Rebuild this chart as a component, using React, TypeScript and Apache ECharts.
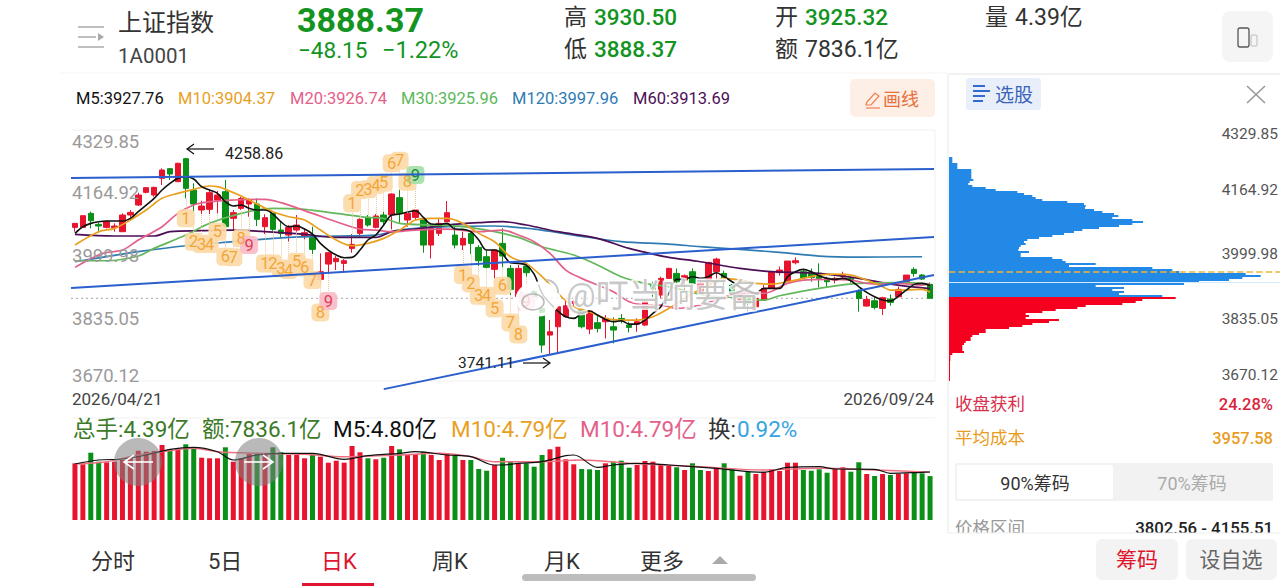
import { useEffect, useRef } from 'react'
import * as echarts from 'echarts'

// [open, close, low, high]
const kline: number[][] = [
  [4075.5, 4086.1, 4064.1, 4086.1], [4075.5, 4106.3, 4075.5, 4106.3], [4112.5, 4093.1, 4072.9, 4116.9], [4083.5, 4079.1, 4061.5, 4087.9],
  [4075.5, 4090.5, 4072.9, 4093.1], [4074.7, 4079.1, 4064.1, 4086.1], [4064.1, 4108.1, 4064.1, 4112.5], [4108.1, 4115.1, 4101.9, 4121.3],
  [4134.5, 4160.9, 4131.9, 4167.1], [4167.9, 4180.3, 4165.3, 4181.1], [4160.9, 4181.1, 4156.5, 4182.9], [4204.9, 4226.9, 4187.3, 4231.3],
  [4230.4, 4216.3, 4200.5, 4232.2], [4196.1, 4244.5, 4196.1, 4246.3], [4256.8, 4178.5, 4152.1, 4258.86], [4174.1, 4137.1, 4114.3, 4191.7],
  [4121.3, 4131.9, 4110.7, 4145.9], [4123.1, 4167.1, 4110.7, 4174.1], [4147.7, 4160.9, 4112.5, 4171.5], [4169.7, 4077.3, 4077.3, 4200.5],
  [4099.3, 4114.3, 4064.1, 4121.3], [4125.7, 4152.1, 4121.3, 4156.5], [4137.1, 4147.7, 4103.7, 4152.1], [4137.1, 4096.7, 4079.1, 4152.1],
  [4077.3, 4101.1, 4057.9, 4109.9], [4112.5, 4070.3, 4065.9, 4112.5], [4068.5, 4059.7, 4046.5, 4090.5], [4055.3, 4075.5, 4037.7, 4081.7],
  [4068.5, 4081.7, 4064.1, 4108.1], [4052.7, 4061.5, 4043.9, 4072.9], [4049.1, 4017.5, 4005.1, 4077.3], [3938.3, 3958.5, 3927.7, 4006.9],
  [3978.7, 4008.7, 3954.1, 4011.3], [3984.9, 3993.7, 3962.9, 3999.9], [3980.5, 3987.5, 3960.3, 3991.9], [4020.1, 4030.7, 4008.7, 4057.9],
  [4059.7, 4096.7, 4050.9, 4099.3], [4101.9, 4081.7, 4077.3, 4108.1], [4075.5, 4105.5, 4072.9, 4110.7], [4108.1, 4090.5, 4081.7, 4116.9],
  [4108.1, 4163.5, 4070.3, 4165.3], [4153.9, 4112.5, 4087.9, 4174.1], [4094.9, 4112.5, 4077.3, 4112.5], [4101.9, 4121.3, 4094.9, 4121.3],
  [4099.3, 4028.9, 4008.7, 4099.3], [4028.9, 4072.9, 3993.7, 4072.9], [4059.7, 4086.1, 4052.7, 4099.3], [4090.5, 4114.3, 4090.5, 4145.1],
  [4055.3, 4028.9, 4020.1, 4077.3], [4028.9, 4046.5, 4015.7, 4064.1], [4059.7, 4033.3, 4005.1, 4064.1], [4022.7, 3987.5, 3973.5, 4028.9],
  [3998.1, 3970, 3967.3, 4015.7], [3964.7, 4015.7, 3940.9, 4017.5], [4033.3, 3999.9, 3970, 4072.9], [3967.3, 3911.9, 3896.9, 3976.1],
  [3892.5, 3967.3, 3874.9, 3976.1], [3973.5, 3955.9, 3945.3, 3982.3], [3905.7, 3892.5, 3883.7, 3910.1], [3861.7, 3764.9, 3744.7, 3861.7],
  [3791.3, 3800.1, 3741.11, 3830.9], [3813.3, 3866.1, 3744.7, 3867.9], [3839.7, 3868.7, 3837.9, 3883.7], [3874.9, 3879.3, 3867.9, 3883.7],
  [3857.3, 3813.3, 3808.9, 3859.1], [3807.1, 3854.7, 3793.9, 3857.3], [3823.9, 3808.9, 3798.3, 3846.7], [3826.5, 3835.3, 3782.5, 3844.1],
  [3813.3, 3804.5, 3769.3, 3837.9], [3835.3, 3829.1, 3822.1, 3846.7], [3817.7, 3811.5, 3798.3, 3826.5], [3820.3, 3826.5, 3800.1, 3835.3],
  [3817.7, 3879.3, 3815.1, 3885.5], [3923.3, 3911.9, 3892.5, 3932.1], [3896.9, 3940.9, 3888.1, 3945.3], [3940.9, 3967.3, 3940.9, 3969.1],
  [3954.1, 3932.1, 3927.7, 3967.3], [3936.5, 3947.9, 3910.1, 3951.5], [3958.5, 3927.7, 3914.5, 3967.3], [3901.3, 3927.7, 3896.9, 3932.1],
  [3936.5, 3983.1, 3932.1, 3983.1], [3958.5, 3991.9, 3927.7, 3995.5], [3954.1, 3940.9, 3918.9, 3961.1], [3923.3, 3901.3, 3892.5, 3925.9],
  [3883.7, 3901.3, 3879.3, 3908.3], [3892.5, 3874.9, 3854.7, 3901.3], [3866.1, 3888.1, 3852.9, 3892.5], [3883.7, 3914.5, 3883.7, 3923.3],
  [3914.5, 3958.5, 3914.5, 3958.5], [3955.9, 3962.9, 3947.9, 3971.7], [3932.1, 3986.7, 3932.1, 3986.7], [3982.3, 3987.5, 3977.9, 3996.4],
  [3958.5, 3942.7, 3940.9, 3964.7], [3954.1, 3943.5, 3932.1, 3967.3], [3954.1, 3940.9, 3917.1, 3980.5], [3940.9, 3932.1, 3918.9, 3945.3],
  [3936.5, 3940.9, 3927.7, 3945.3], [3945.3, 3951.5, 3940.9, 3958.5], [3940.9, 3936.5, 3929.5, 3945.3], [3908.3, 3888.1, 3852.9, 3911.9],
  [3867.9, 3885.5, 3866.1, 3895.1], [3881.9, 3864.3, 3859.1, 3890.7], [3861.7, 3889.9, 3844.1, 3892.5], [3886.3, 3877.5, 3868.7, 3898.7],
  [3892.5, 3911.9, 3890.7, 3918.9], [3932.1, 3949.7, 3932.1, 3949.7], [3964.7, 3954.1, 3945.3, 3970], [3949.7, 3939.1, 3936.5, 3952.3],
  [3925.32, 3888.37, 3888.37, 3930.5],
]
const dates = kline.map((_, i) => String(i))

const ma5 = [
  4059.7, 4077.3, 4086.1, 4090.5, 4092.3, 4092.3, 4092.3, 4099.3, 4116.9, 4134.5, 4152.1, 4174.1, 4191.7, 4204.9, 4209.3, 4203.1,
  4182.9, 4174.1, 4165.3, 4143.3, 4131.9, 4134.5, 4125.7, 4121.3, 4121.3, 4110.7, 4090.5, 4077.3, 4079.1, 4071.1, 4057.9, 4033.3,
  4015.7, 4002.5, 3995.5, 3996.4, 4015.7, 4042.1, 4055.3, 4081.7, 4108.1, 4110.7, 4116, 4119.5, 4101.9, 4084.3, 4083.5, 4086.1,
  4071.1, 4070.3, 4064.1, 4042.1, 4015.7, 4015.7, 4005.1, 3982.3, 3980.5, 3976.1, 3952.3, 3901.3, 3874.9, 3854.7, 3839.7, 3835.3,
  3848.5, 3854.7, 3844.1, 3832.7, 3826.5, 3829.1, 3820.3, 3820.3, 3830.9, 3848.5, 3866.1, 3901.3, 3938.3, 3938.3, 3945.3, 3940.9,
  3945.3, 3955.9, 3945.3, 3932.1, 3918.9, 3910.1, 3901.3, 3914.5, 3914.5, 3914.5, 3945.3, 3958.5, 3964.7, 3958.5, 3947.9, 3940.9,
  3938.3, 3940.9, 3934.7, 3918.9, 3903.9, 3892.5, 3883.7, 3881.1, 3894.3, 3910.1, 3925.1, 3927.7, 3922,
]
const ma10 = [
  [0, 4028.9], [3, 4064.1], [5, 4072.9], [7, 4094.9], [9, 4121.3], [11, 4152.1], [13, 4165.3], [15, 4175.9], [17, 4184.7], [18, 4182.9],
  [19, 4175.9], [21, 4158.3], [23, 4137.1], [25, 4116.9], [27, 4103.7], [29, 4094.9], [31, 4068.5], [33, 4042.1], [35, 4027.1], [37, 4033.3],
  [39, 4046.5], [41, 4068.5], [42, 4081.7], [43, 4094.9], [45, 4099.3], [47, 4099.3], [49, 4086.1], [51, 4059.7], [53, 4037.7], [55, 3998.1],
  [57, 3980.5], [59, 3945.3], [61, 3901.3], [63, 3866.1], [65, 3852.9], [67, 3835.3], [69, 3830.9], [71, 3830.9], [73, 3839.7], [75, 3861.7],
  [76, 3874.9], [78, 3901.3], [80, 3923.3], [82, 3940.9], [84, 3936.5], [86, 3927.7], [88, 3925.9], [90, 3932.1], [92, 3940.9], [94, 3949.7],
  [96, 3952.3], [98, 3949.7], [100, 3936.5], [102, 3918.9], [103, 3910.1], [105, 3910.1], [107, 3911.9], [108, 3904.37],
]
const ma20 = [
  [0, 3970], [3.5, 4006.9], [6, 4015.7], [8, 4042.1], [11, 4077.3], [13, 4112.5], [15, 4134.5], [17, 4143.3], [20, 4147.7], [24, 4149.5],
  [26, 4140.7], [30, 4112.5], [33, 4090.5], [36, 4071.1], [38, 4068.5], [40, 4064.1], [43, 4068.5], [47, 4071.1], [51, 4064.1], [54, 4068.5],
  [56, 4055.3], [58, 4037.7], [60, 4006.9], [62, 3962.9], [64, 3940.9], [66, 3923.3], [68, 3905.7], [70, 3879.3], [72, 3870.5], [74, 3870.5],
  [76, 3861.7], [79, 3870.5], [81, 3883.7], [84, 3901.3], [87, 3901.3], [90, 3927.7], [92, 3936.5], [95, 3938.3], [98, 3936.5], [100, 3927.7],
  [102, 3925.9], [104, 3927.7], [107, 3923.3], [108, 3926.74],
]
const ma30 = [
  [0, 3987.5], [4, 3987.5], [8, 3999.9], [10, 4020.1], [14, 4055.3], [17, 4086.1], [21, 4112.5], [25, 4125.7], [29, 4123.1], [33, 4112.5],
  [37, 4101.9], [39, 4099.3], [41, 4086.1], [45, 4081.7], [49, 4077.3], [53, 4064.1], [56, 4049.1], [59, 4024.5], [63, 4002.5], [66, 3976.1],
  [69, 3945.3], [72, 3927.7], [75, 3918.9], [80, 3895.1], [84, 3889.9], [87, 3883.7], [89, 3895.1], [94, 3914.5], [99, 3927.7], [104, 3929.5],
  [108, 3925.96],
]
const ma120 = [
  [0, 3984.9], [4, 3998.1], [8, 4011.3], [14, 4027.1], [20, 4037.7], [27, 4049.1], [33, 4052.7], [38, 4055.3], [41, 4068.5], [47, 4077.3],
  [53, 4079.1], [58, 4071.1], [63, 4055.3], [69, 4037.7], [75, 4031.5], [79, 4024.5], [84, 4017.5], [89, 4009.5], [94, 3999.9], [99, 3997.2],
  [107, 3997.96],
]
const ma60 = [
  [0, 4057], [5, 4052.7], [10, 4052.7], [12, 4064.1], [16, 4066.7], [20, 4068.5], [24, 4064.1], [29, 4057], [33, 4049.1], [38, 4049.1],
  [40, 4064.1], [43, 4071.1], [47, 4081.7], [51, 4087.9], [54, 4090.5], [57, 4081.7], [61, 4064.1], [66, 4046.5], [70, 4020.1], [73, 4005.1],
  [75, 3996.4], [79, 3984.9], [84, 3967.3], [88, 3958.5], [94, 3954.1], [99, 3940.9], [103, 3925.9], [108, 3913.69],
]

// hand-drawn trend lines [bar index, price]
const trendTop = [[-0.5, 4205.8], [108.5, 4229.5]]
const trendMid = [[-0.5, 3915.4], [108.5, 4050]]
const trendLow = [[39, 3648.7], [108.5, 3949.7]]
const lastCloseLine = [[-0.5, 3888.37], [108.5, 3888.37]]

// nine-count markers: digit is position + 1, bar index is start + position
const tdRuns = [
  { start: 14, prices: [4099.3, 4037.7, 4031.5, 4031.5, 4064.1, 3998.1, 3996.4, 4046.5, 4028.9], last: 'pink' },
  { start: 24, prices: [3980.5, 3980.5, 3967.3, 3962.9, 3984.9, 3969.9, 3936.5, 3851.1, 3881], last: 'pink' },
  { start: 35, prices: [4138.9, 4174.1, 4175.9, 4187.3, 4193.5, 4244.5, 4251.5, 4196.1, 4213.7], last: 'green' },
  { start: 49, prices: [3949.7, 3927.7, 3895.1, 3895.1, 3861.7, 3921.5, 3824.7, 3793.1, 3879.3], last: 'pink' },
]

// 亿
const volumes = [
  5.67, 5.57, 6.73, 5.83, 5.77, 5.83, 6, 6.33, 6.93, 6.83, 6.9, 7.5, 7.1, 7.17, 7.57, 7.27, 6.23, 6.17, 6.17, 7.27,
  5.83, 6.17, 6.6, 6.67, 6.5, 7.27, 6.77, 6.5, 6.5, 6.17, 6.5, 6.33, 5.73, 5.93, 5.73, 7.4, 6.77, 6.17, 6.07, 6.23,
  7.4, 7.07, 6.5, 6.6, 6.83, 6.5, 6, 6.67, 6.43, 6, 6, 5.1, 4.93, 5.5, 6.23, 5.83, 5.67, 5.67, 5.33, 6.5,
  7.07, 7.33, 6.07, 5.57, 5.1, 5.07, 5, 5.67, 5.83, 5.93, 5.23, 5.5, 5.9, 5.83, 5.5, 5.4, 5.27, 5, 5.67, 5,
  4.9, 5.17, 5.67, 5.07, 4.43, 4.83, 4.6, 4.83, 5.07, 4.9, 5.73, 5.73, 5, 4.93, 5.07, 4.73, 5.17, 5.27, 4.83, 5.77,
  4.6, 4.4, 4.6, 4.5, 4.6, 4.67, 4.9, 4.67, 4.39,
]
const volumeSides = (
  'RRGGRRRRRR' + 'RRGRGGRRRG' + 'RRRGRGGRRR' + 'GRRRRRRGRG' + 'RGRRGRRRGR' + 'GGGRGGRGGG' +
  'RRRRGGGRGG' + 'GRRRRRGRGG' + 'RRGGRGRRRR' + 'RRGGGGRRGG' + 'RGRGRRGGG'
).split('')
const volMa5 = [
  [0, 5.6], [3, 6], [6, 6.1], [9, 6.5], [12, 7.07], [15, 7.27], [18, 6.83], [20, 6], [23, 6.5], [26, 6.67], [30, 6.67], [34, 6.07],
  [37, 6.43], [41, 6.67], [43, 6.83], [47, 6.5], [50, 6.33], [53, 5.5], [54, 5.5], [56, 5.67], [59, 5.83], [62, 6.43], [63, 6.5],
  [66, 5.27], [68, 5.5], [71, 5.67], [75, 5.5], [81, 5.17], [87, 4.77], [90, 5.27], [94, 5.33], [96, 5.1], [101, 5.07], [103, 4.67],
  [107, 4.77], [108, 4.8],
]
const volMa10 = [
  [0, 5.6], [4, 5.83], [8, 6.5], [12, 6.93], [15, 7.17], [18, 6.83], [23, 6.67], [29, 6.57], [34, 6.33], [41, 6.5], [46, 6.67], [50, 6.33],
  [53, 5.83], [59, 5.83], [64, 6], [70, 5.67], [79, 5.33], [87, 5], [94, 5.17], [101, 5], [108, 4.79],
]

// chip distribution, top row first
const chipPrices = [
  4260.3, 4255, 4249.7, 4244.5, 4239.2, 4233.9, 4228.6, 4223.4, 4218.1, 4212.8, 4207.5, 4202.2, 4197, 4191.7, 4186.4, 4181.1,
  4175.9, 4170.6, 4165.3, 4160, 4154.7, 4149.5, 4144.2, 4138.9, 4133.6, 4128.4, 4123.1, 4117.8, 4112.5, 4107.2, 4102, 4096.7,
  4091.4, 4086.1, 4080.9, 4075.6, 4070.3, 4065, 4059.7, 4054.5, 4049.2, 4043.9, 4038.6, 4033.4, 4028.1, 4022.8, 4017.5, 4012.2,
  4007, 4001.7, 3996.4, 3991.1, 3985.9, 3980.6, 3975.3, 3970, 3964.7, 3959.5, 3954.2, 3948.9, 3943.6, 3938.4, 3933.1, 3927.8,
  3922.5, 3917.2, 3912, 3906.7, 3901.4, 3896.1, 3890.9, 3885.6, 3880.3, 3875, 3869.7, 3864.5, 3859.2, 3853.9, 3848.6, 3843.4,
  3838.1, 3832.8, 3827.5, 3822.2, 3817, 3811.7, 3806.4, 3801.1, 3795.9, 3790.6, 3785.3, 3780, 3774.7, 3769.5, 3764.2, 3758.9,
  3753.6, 3748.4, 3743.1, 3737.8, 3732.5, 3727.2, 3722, 3716.7, 3711.4, 3706.1, 3700.9, 3695.6, 3690.3, 3685, 3679.7, 3674.5,
].map(String)
const chipAbove = [
  10, 10, 10, 25, 25, 25, 67, 67, 67, 67, 67, 73, 62, 58, 70, 110, 140, 205, 225, 250, 260, 280, 355, 405, 410, 408, 435, 460, 495, 508,
  490, 550, 582, 550, 510, 450, 400, 375, 345, 310, 270, 235, 225, 230, 215, 210, 208, 240, 215, 215, 310, 340, 350, 440, 360, 610, 670,
  690, 890, 935, 880, 840, 750, 705, 440, 525, 490, 525, 510, 640,
]
const chipBelow = [
  680, 580, 560, 520, 410, 385, 320, 280, 230, 240, 230, 330, 300, 250, 220, 180, 110, 110, 90, 70, 65, 65, 50, 45, 40, 40, 40, 45, 10,
  4, 4, 4, 3, 3, 3, 3, 3, 3, 3, 3, 3, 3,
]

const priceMin = 3670.12
const priceMax = 4329.85

const leftPriceLabels = ['4329.85', '4164.92', '3999.98', '3835.05', '3670.12']
const rightPriceLabels = ['4329.85', '4164.92', '3999.98', '3835.05', '3670.12']
const maLegend = [
  { label: 'M5:3927.76', color: '#111111', x: 76 },
  { label: 'M10:3904.37', color: '#e9a01f', x: 178 },
  { label: 'M20:3926.74', color: '#e4608a', x: 290 },
  { label: 'M30:3925.96', color: '#5cb85c', x: 401 },
  { label: 'M120:3997.96', color: '#2f7bb3', x: 512 },
  { label: 'M60:3913.69', color: '#4c0f55', x: 633 },
]
const tabs = [
  { label: '分时', x: 91 }, { label: '5日', x: 208 }, { label: '日K', x: 321 },
  { label: '周K', x: 432 }, { label: '月K', x: 544 }, { label: '更多', x: 640 },
]

const RED = '#e8142e'
const GREEN = '#0a8f17'
const TEXT_GREEN = '#12941f'
const FONT = 'Roboto, "Noto Sans CJK SC", sans-serif'

function txt(x: number, y: number, text: string, size: number, fill: string, extra: any = {}) {
  const { align = 'left', weight = 'normal', z = 60, ...rest } = extra
  return {
    type: 'text', x, y, z,
    style: {
      text, fill, fontSize: size, fontFamily: FONT, fontWeight: weight,
      textAlign: align, textVerticalAlign: 'middle', align, verticalAlign: 'middle', ...rest,
    },
  }
}
function box(x: number, y: number, w: number, h: number, fill: string, r = 0, z = 1) {
  return { type: 'rect', z, shape: { x, y, width: w, height: h, r }, style: { fill } }
}
function seg(x1: number, y1: number, x2: number, y2: number, stroke: string, lineWidth = 1.5, z = 60) {
  return { type: 'line', z, shape: { x1, y1, x2, y2 }, style: { stroke, lineWidth } }
}
function arrow(x1: number, x2: number, y: number, stroke: string, lineWidth = 1.2, head = 7, z = 60) {
  const d = x2 > x1 ? -head : head
  return [
    seg(x1, y, x2, y, stroke, lineWidth, z),
    { type: 'polyline', z, shape: { points: [[x2 + d, y - head * 0.7], [x2, y], [x2 + d, y + head * 0.7]] }, style: { stroke, lineWidth, fill: 'none' } },
  ]
}

function buildGraphics() {
  const leftY = [142, 193, 256, 319, 376]
  const rightY = [134, 190, 254, 319, 375]
  return [
    // frames
    box(71, 130, 864, 251, '#ffffff', 0, 0),
    seg(60, 73, 948, 73, '#f5f5f5', 1, 1),
    seg(71, 130, 935, 130, '#f1f1f1', 1, 1),
    seg(71, 381, 935, 381, '#f1f1f1', 1, 1),
    seg(935, 130, 935, 381, '#f1f1f1', 1, 1),
    seg(71, 418, 935, 418, '#f1f1f1', 1, 1),
    seg(948, 74, 1280, 74, '#ececec', 1.5, 1),
    seg(948, 74, 948, 533, '#f0f0f0', 1.5, 1),

    // header
    seg(78, 27, 104, 27, '#aaaaaa'), seg(78, 37, 96, 37, '#aaaaaa'), seg(78, 47, 104, 47, '#aaaaaa'),
    { type: 'polygon', z: 60, shape: { points: [[98, 33], [104, 37], [98, 41]] }, style: { fill: '#aaaaaa' } },
    txt(118, 23, '上证指数', 24, '#333333'),
    txt(118, 56, '1A0001', 20.5, '#444444'),
    txt(297, 20, '3888.37', 34, TEXT_GREEN, { weight: 'bold' }),
    txt(298, 50, '−48.15', 22.5, TEXT_GREEN),
    txt(382, 50, '−1.22%', 23.5, TEXT_GREEN),
    txt(564, 17, '高', 23, '#333333'), txt(594, 17, '3930.50', 22.5, TEXT_GREEN, { weight: 500 }),
    txt(564, 49, '低', 23, '#333333'), txt(594, 49, '3888.37', 22.5, TEXT_GREEN, { weight: 500 }),
    txt(775, 17, '开', 23, '#333333'), txt(805, 17, '3925.32', 22.5, TEXT_GREEN, { weight: 500 }),
    txt(775, 49, '额', 23, '#333333'), txt(805, 49, '7836.1亿', 23, '#333333'),
    txt(985, 17, '量', 23, '#333333'), txt(1015, 17, '4.39亿', 23, '#333333'),
    box(1222, 11, 51, 51, '#f5f5f5', 8),
    { type: 'rect', z: 60, shape: { x: 1238, y: 28, width: 11, height: 19, r: 2 }, style: { fill: 'none', stroke: '#555555', lineWidth: 1.3 } },
    { type: 'rect', z: 60, shape: { x: 1251, y: 35, width: 6, height: 11, r: 1 }, style: { fill: 'none', stroke: '#bbbbbb', lineWidth: 1 } },

    // MA legend, draw-line button
    ...maLegend.map((m) => txt(m.x, 98, m.label, 16.5, m.color)),
    box(850, 79, 85, 38, '#fdeee6', 5),
    { type: 'polyline', z: 60, shape: { points: [[867, 102], [875, 93], [879, 96], [871, 105], [866, 105], [867, 102]] }, style: { fill: 'none', stroke: '#ec8052', lineWidth: 1.2 } },
    seg(866, 108, 880, 108, '#ec8052', 1.2),
    txt(883, 99, '画线', 18, '#e8703a'),

    // right panel header
    box(966, 78, 75, 32, '#e8effb', 3),
    seg(973, 86, 985, 86, '#2f6bd0', 2), seg(973, 91, 990, 91, '#2f6bd0', 2), seg(973, 96, 985, 96, '#2f6bd0', 2), seg(973, 101, 983, 101, '#2f6bd0', 2),
    txt(995, 95, '选股', 19, '#3a64b8'),
    seg(1247, 86, 1265, 103, '#999999', 1.6), seg(1265, 86, 1247, 103, '#999999', 1.6),
    ...rightPriceLabels.map((t, i) => txt(1278, rightY[i], t, 15.5, '#555555', { align: 'right' })),

    // main chart annotations
    ...leftPriceLabels.map((t, i) => txt(72, leftY[i], t, 18.5, '#9a9a9a', { z: 40 })),
    txt(72, 399, '2026/04/21', 17, '#444444'),
    txt(934, 399, '2026/09/24', 17, '#444444', { align: 'right' }),
    ...arrow(214, 187, 149, '#111111'),
    txt(225, 153, '4258.86', 16, '#222222'),
    txt(458, 363, '3741.11', 15.5, '#222222'),
    ...arrow(523, 550, 363, '#111111'),

    // weibo watermark
    { type: 'ellipse', z: 50, shape: { cx: 538, cy: 299, rx: 21, ry: 16 }, style: { fill: 'rgba(255,255,255,0.8)', stroke: 'rgba(255,255,255,0.95)', lineWidth: 3 } },
    { type: 'ellipse', z: 51, shape: { cx: 533, cy: 302, rx: 11, ry: 8 }, style: { fill: 'none', stroke: 'rgba(170,170,170,0.8)', lineWidth: 1.5 } },
    { type: 'arc', z: 51, shape: { cx: 546, cy: 292, r: 12, startAngle: -1.6, endAngle: 0.1 }, style: { fill: 'none', stroke: 'rgba(190,190,190,0.9)', lineWidth: 2 } },
    txt(566, 295, '@叮当响要备', 33, 'rgba(180,180,180,0.72)', { z: 50, stroke: 'rgba(255,255,255,0.85)', lineWidth: 3 }),

    // volume header
    txt(73, 429, '总手:4.39亿', 22.5, '#3c7a28'),
    txt(202, 429, '额:7836.1亿', 22.5, '#3c7a28'),
    txt(333, 429, 'M5:4.80亿', 22.5, '#111111'),
    txt(451, 429, 'M10:4.79亿', 22.5, '#e9a01f'),
    txt(580, 429, 'M10:4.79亿', 22.5, '#e4608a'),
    txt(708, 429, '换:', 22.5, '#333333'),
    txt(737, 429, '0.92%', 22.5, '#35a4e0'),

    // pan buttons
    { type: 'circle', z: 55, shape: { cx: 138, cy: 462, r: 24 }, style: { fill: 'rgba(128,128,128,0.55)' } },
    { type: 'circle', z: 55, shape: { cx: 259, cy: 462, r: 24 }, style: { fill: 'rgba(128,128,128,0.55)' } },
    ...arrow(153, 124, 462, '#ffffff', 1.6, 10),
    ...arrow(244, 273, 462, '#ffffff', 1.6, 10),

    // chip panel details
    txt(955, 404, '收盘获利', 17.5, '#d8304c'),
    txt(1273, 404, '24.28%', 16.5, '#dc1f3d', { align: 'right', weight: 500 }),
    txt(955, 438, '平均成本', 17.5, '#e99c22'),
    txt(1273, 438, '3957.58', 16.5, '#e99c22', { align: 'right', weight: 500 }),
    box(955, 463, 318, 38, '#f2f2f2', 2),
    box(957, 465, 156, 34, '#ffffff', 2, 2),
    txt(1035, 483, '90%筹码', 18, '#333333', { align: 'center' }),
    txt(1192, 483, '70%筹码', 18, '#aaaaaa', { align: 'center' }),
    txt(955, 528, '价格区间', 17.5, '#999999'),
    txt(1273, 528, '3802.56 - 4155.51', 16.8, '#222222', { align: 'right', weight: 500 }),

    // bottom bar
    box(0, 533, 1280, 53, '#ffffff', 0, 70),
    seg(948, 533, 1280, 533, '#eeeeee', 1, 71),
    ...tabs.map((t) => txt(t.x, 561, t.label, 22, t.label === '日K' ? '#e0142c' : '#333333', { z: 72 })),
    box(302, 583, 72, 3, '#e0142c', 0, 72),
    { type: 'polygon', z: 72, shape: { points: [[712, 564], [720, 556], [728, 564]] }, style: { fill: '#aaaaaa' } },
    box(522, 574, 234, 7, '#bdbdbd', 3.5, 72),
    box(1096, 539, 82, 41, '#f3f3f3', 6, 72),
    box(1186, 539, 91, 41, '#f3f3f3', 6, 72),
    txt(1137, 560, '筹码', 21, '#e0142c', { align: 'center', z: 73 }),
    txt(1231, 560, '设自选', 21, '#666666', { align: 'center', z: 73 }),
  ]
}

function buildTdPoints() {
  const fills: any = { orange: '#fcdaa9', pink: '#f9bcc6', green: '#a4dfa7' }
  const texts: any = { orange: '#f2a02e', pink: '#de2e4d', green: '#0a7d2c' }
  const points: any[] = []
  const links: any[] = []
  tdRuns.forEach((run) => {
    run.prices.forEach((price, pos) => {
      const idx = run.start + pos
      const kind = pos === 8 ? run.last : 'orange'
      points.push({
        value: [idx, price, pos + 1],
        itemStyle: { color: fills[kind], opacity: 0.92 },
        label: { color: texts[kind] },
      })
      const k = kline[idx]
      const edge = price > k[3] ? k[3] : k[2]
      links.push([{ coord: [idx, price] }, { coord: [idx, edge] }])
    })
  })
  return { points, links }
}

function maSeries(name: string, data: number[][], color: string, width = 1.7, z = 3) {
  return {
    name, type: 'line', xAxisIndex: 1, yAxisIndex: 0, data, smooth: 0.35, showSymbol: false, z,
    lineStyle: { color, width }, itemStyle: { color },
  }
}
function trendSeries(name: string, data: number[][]) {
  return {
    name, type: 'line', xAxisIndex: 1, yAxisIndex: 0, data, showSymbol: false, clip: false, z: 6,
    lineStyle: { color: '#2b5fce', width: 2 }, itemStyle: { color: '#2b5fce' },
  }
}

export default function App() {
  const ref = useRef<HTMLDivElement>(null)

  useEffect(() => {
    if (!ref.current) return

    const chart = echarts.init(ref.current, undefined, { renderer: 'svg' })
    const { points, links } = buildTdPoints()
    const hiddenValueX = { type: 'value', min: -0.5, max: 108.5, show: false }

    chart.setOption({
      animation: false,
      backgroundColor: '#ffffff',
      textStyle: { fontFamily: FONT },
      grid: [
        { left: 71, top: 131, width: 863, height: 250 },
        { left: 71, top: 444, width: 863, height: 76 },
        { left: 949, top: 157, width: 331, height: 224 },
      ],
      xAxis: [
        { type: 'category', data: dates, gridIndex: 0, show: false },
        { ...hiddenValueX, gridIndex: 0 },
        { type: 'category', data: dates, gridIndex: 1, show: false },
        { ...hiddenValueX, gridIndex: 1 },
        { type: 'value', min: 0, max: 993, gridIndex: 2, show: false },
      ],
      yAxis: [
        { type: 'value', min: priceMin, max: priceMax, gridIndex: 0, show: false },
        { type: 'value', min: 0, max: 7.6, gridIndex: 1, show: false },
        { type: 'category', data: chipPrices, inverse: true, gridIndex: 2, show: false },
      ],
      series: [
        {
          name: 'close', type: 'line', xAxisIndex: 1, yAxisIndex: 0, data: lastCloseLine, showSymbol: false, z: 1,
          lineStyle: { color: '#b5b5b5', type: [2, 3], width: 1.2 },
        },
        {
          name: 'K', type: 'candlestick', xAxisIndex: 0, yAxisIndex: 0, data: kline, barWidth: 6, z: 2,
          itemStyle: { color: RED, color0: GREEN, borderColor: RED, borderColor0: GREEN, borderWidth: 1 },
        },
        maSeries('M120', ma120, '#2f7bb3'),
        maSeries('M60', ma60, '#4c0f55'),
        maSeries('M30', ma30, '#62b85a'),
        maSeries('M20', ma20, '#e4608a'),
        maSeries('M10', ma10, '#e9a01f'),
        maSeries('M5', ma5.map((v, i) => [i, v]), '#111111', 1.6, 4),
        trendSeries('trendTop', trendTop),
        trendSeries('trendMid', trendMid),
        trendSeries('trendLow', trendLow),
        {
          name: 'TD', type: 'scatter', xAxisIndex: 1, yAxisIndex: 0, data: points, symbol: 'roundRect', symbolSize: 18, z: 5,
          label: { show: true, position: 'inside', fontSize: 16.5, fontFamily: FONT, formatter: (p: any) => String(p.value[2]) },
          markLine: {
            silent: true, symbol: 'none', label: { show: false },
            lineStyle: { color: '#e9c79a', type: 'dotted', width: 1 },
            data: links,
          },
        },
        {
          name: 'volume', type: 'bar', xAxisIndex: 2, yAxisIndex: 1, barWidth: 5,
          data: volumes.map((v, i) => ({ value: v, itemStyle: { color: volumeSides[i] === 'R' ? RED : GREEN } })),
        },
        {
          name: 'volM10', type: 'line', xAxisIndex: 3, yAxisIndex: 1, data: volMa10, smooth: 0.35, showSymbol: false, z: 3,
          lineStyle: { color: '#ee6f80', width: 1.4 },
        },
        {
          name: 'volM5', type: 'line', xAxisIndex: 3, yAxisIndex: 1, data: volMa5, smooth: 0.35, showSymbol: false, z: 4,
          lineStyle: { color: '#111111', width: 1.2 },
        },
        {
          name: 'chips', type: 'bar', xAxisIndex: 4, yAxisIndex: 2, barWidth: '100%', barCategoryGap: 0,
          data: [
            ...chipAbove.map((v) => ({ value: v, itemStyle: { color: '#2389e6' } })),
            ...chipBelow.map((v) => ({ value: v, itemStyle: { color: '#f5001f' } })),
          ],
          markLine: {
            silent: true, symbol: 'none', label: { show: false },
            data: [
              { yAxis: 57, lineStyle: { color: '#efb23a', type: 'dashed', width: 1.6 } },
              { yAxis: 62, lineStyle: { color: '#d4e9fb', type: 'solid', width: 1 } },
            ],
          },
        },
      ],
      graphic: { elements: buildGraphics() },
    })

    return () => {
      chart.dispose()
    }
  }, [])

  return <div ref={ref} style={{ position: 'fixed', left: 0, top: 0, width: 1280, height: 586 }} />
}
